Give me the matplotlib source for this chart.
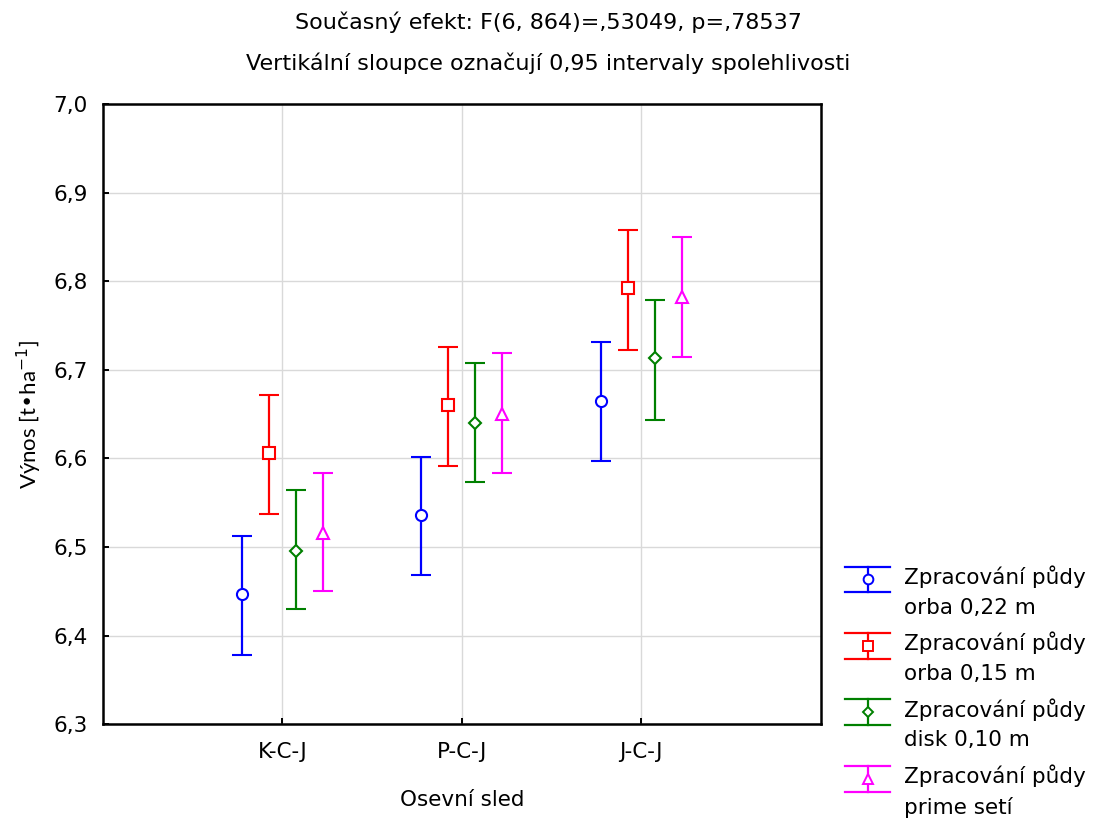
import matplotlib.pyplot as plt
import numpy as np
from matplotlib.lines import Line2D
from matplotlib.legend_handler import HandlerBase

plt.rcParams['font.family'] = ['DejaVu Sans']

categories = ['K-C-J', 'P-C-J', 'J-C-J']
series = ['Zpracování půdy\norba 0,22 m', 'Zpracování půdy\norba 0,15 m',
          'Zpracování půdy\ndisk 0,10 m', 'Zpracování půdy\nprime setí']
colors = ['#0000ff', '#ff0000', '#008000', '#ff00ff']
markers = ['o', 's', 'D', '^']

# means and 95% CI bounds per series (rows) and category (cols)
means = [[6.447, 6.536, 6.665],
         [6.606, 6.660, 6.792],
         [6.496, 6.640, 6.713],
         [6.516, 6.650, 6.782]]
lower = [[6.378, 6.468, 6.597],
         [6.537, 6.591, 6.723],
         [6.430, 6.573, 6.644],
         [6.450, 6.584, 6.715]]
upper = [[6.512, 6.602, 6.731],
         [6.672, 6.726, 6.858],
         [6.564, 6.708, 6.779],
         [6.584, 6.719, 6.850]]
offsets = [-0.225, -0.075, 0.075, 0.225]


class ErrHandler(HandlerBase):
    def create_artists(self, legend, orig, xd, yd, w, h, fontsize, trans):
        c = orig.get_color()
        shift = 0.62 * fontsize
        y0, y1 = -yd + shift, -yd + shift + 1.2 * fontsize
        ym = (y0 + y1) / 2
        top = Line2D([-xd, -xd + w], [y1, y1], color=c, lw=1.6, transform=trans)
        bot = Line2D([-xd, -xd + w], [y0, y0], color=c, lw=1.6, transform=trans)
        mid = Line2D([-xd + w / 2] * 2, [y0, y1], color=c, lw=1.6, transform=trans)
        mk = Line2D([-xd + w / 2], [ym], marker=orig.get_marker(), color=c,
                    markerfacecolor='white',
                    markersize=7 if orig.get_marker() != 'D' else 5.5,
                    mew=1.4, transform=trans)
        return [top, bot, mid, mk]


fig = plt.figure(figsize=(11.01, 8.21), dpi=100)
ax = fig.add_axes([0.0935, 0.118, 0.652, 0.755])

x = np.arange(1, len(categories) + 1)
handles = []
for i in range(len(series)):
    m = np.array(means[i])
    err = [m - np.array(lower[i]), np.array(upper[i]) - m]
    ms = 8 if markers[i] != 'D' else 6.5
    ax.errorbar(x + offsets[i], m, yerr=err, fmt=markers[i], color=colors[i],
                ecolor=colors[i], elinewidth=1.6, capsize=7.5, capthick=1.6,
                markersize=ms, markerfacecolor='white', markeredgewidth=1.5, zorder=3)
    handles.append(Line2D([], [], color=colors[i], marker=markers[i]))

ax.set_xlim(0, 4)
ax.set_ylim(6.3, 7.0)
ax.set_xticks(x)
ax.set_xticklabels(categories)
yt = np.round(np.arange(6.3, 7.01, 0.1), 1)
ax.set_yticks(yt)
ax.set_yticklabels([f'{v:.1f}'.replace('.', ',') for v in yt])
ax.grid(True, color='#d9d9d9', linewidth=1)
ax.set_axisbelow(True)
ax.tick_params(direction='in', length=4, width=1.4, labelsize=15.5, color='black')
ax.tick_params(axis='y', pad=11)
ax.tick_params(axis='x', pad=13)
for s in ax.spines.values():
    s.set_linewidth(1.8)

ax.set_xlabel('Osevní sled', fontsize=15.5, labelpad=20)
ax.set_ylabel('Výnos [t•ha$^{-1}$]', fontsize=16, labelpad=7,
              family=['Lato', 'DejaVu Sans'])

fig.text(0.498, 0.973, 'Současný efekt: F(6, 864)=,53049, p=,78537',
         ha='center', va='center', fontsize=16)
fig.text(0.498, 0.923, 'Vertikální sloupce označují 0,95 intervaly spolehlivosti',
         ha='center', va='center', fontsize=16)

leg = fig.legend(handles, series, loc='lower left', bbox_to_anchor=(0.750, -0.02),
                 frameon=False, fontsize=15.5, handler_map={Line2D: ErrHandler()},
                 handlelength=2.1, handleheight=1.5, handletextpad=0.65,
                 labelspacing=0.65)
for t in leg.get_texts():
    t.set_linespacing(1.6)

fig.savefig('out.png', dpi=100)
